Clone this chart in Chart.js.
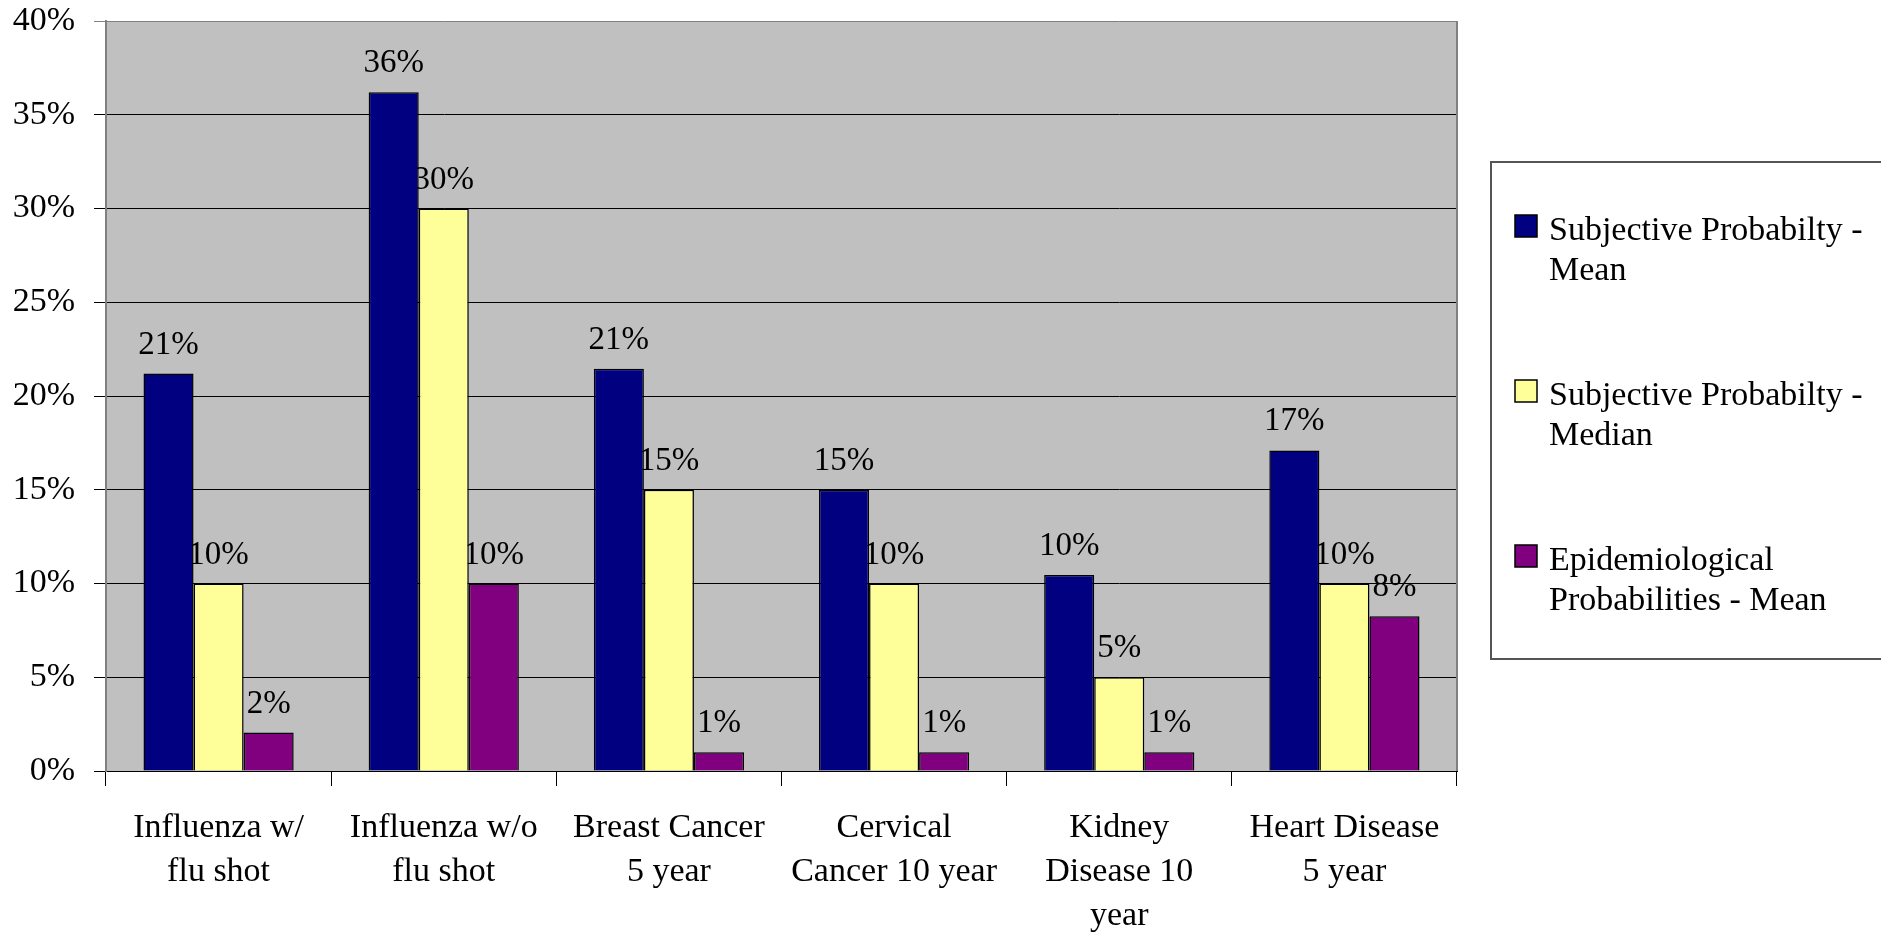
<!DOCTYPE html>
<html>
<head>
<meta charset="utf-8">
<script src="https://cdn.jsdelivr.net/npm/chart.js@4.4.1/dist/chart.umd.min.js"></script>
<style>
  html, body { margin: 0; padding: 0; background: #fff; }
  canvas { display: block; }
</style>
</head>
<body>
<canvas id="myChart" width="1881" height="932"></canvas>
<script>
var categories = [
  ["Influenza w/", "flu shot"],
  ["Influenza w/o", "flu shot"],
  ["Breast Cancer", "5 year"],
  ["Cervical", "Cancer 10 year"],
  ["Kidney", "Disease 10", "year"],
  ["Heart Disease", "5 year"]
];
var subjectiveMean = [21.2, 36.2, 21.45, 15.0, 10.45, 17.1];
var subjectiveMedian = [10, 30, 15, 10, 5, 10];
var epidemiologicalMean = [2.05, 10, 1.0, 1.0, 1.0, 8.25];
var seriesLines = [
  ["Subjective Probabilty -", "Mean"],
  ["Subjective Probabilty -", "Median"],
  ["Epidemiological", "Probabilities - Mean"]
];
var seriesColors = ["#000080", "#FFFF99", "#800080"];
var yTicks = [0, 5, 10, 15, 20, 25, 30, 35, 40];

var serif = "'Liberation Serif', 'Times New Roman', serif";

// grey plot background
var plotBackground = {
  id: "plotBackground",
  beforeDraw: function (chart) {
    var c = chart.ctx, a = chart.chartArea;
    c.save();
    c.fillStyle = "#fff";
    c.fillRect(0, 0, chart.width, chart.height);
    c.fillStyle = "#C0C0C0";
    c.fillRect(a.left, a.top, a.right - a.left, a.bottom - a.top);
    c.restore();
  }
};

// value labels sit under the bars, like the original
var barLabels = {
  id: "barLabels",
  beforeDatasetsDraw: function (chart) {
    var c = chart.ctx, a = chart.chartArea;
    c.save();
    c.strokeStyle = "#808080";
    c.lineWidth = 2;
    c.beginPath();
    c.moveTo(a.right, a.top);
    c.lineTo(a.right, a.bottom);
    c.stroke();
    c.font = "33px " + serif;
    c.fillStyle = "#000";
    c.textAlign = "center";
    c.textBaseline = "alphabetic";
    chart.data.datasets.forEach(function (ds, i) {
      var meta = chart.getDatasetMeta(i);
      meta.data.forEach(function (bar, j) {
        c.fillText(Math.round(ds.data[j]) + "%", bar.x, bar.y - 20);
      });
    });
    c.restore();
  }
};

// boxed legend with wrapped names
var sideLegend = {
  id: "sideLegend",
  afterDraw: function (chart) {
    var c = chart.ctx;
    c.save();
    c.strokeStyle = "#555";
    c.lineWidth = 2;
    c.strokeRect(1491, 162, 500, 497);
    c.font = "34px " + serif;
    c.fillStyle = "#000";
    c.textAlign = "left";
    c.textBaseline = "alphabetic";
    chart.data.datasets.forEach(function (ds, i) {
      var top = 215 + i * 165;
      c.fillStyle = ds.backgroundColor;
      c.fillRect(1515, top, 22, 22);
      c.strokeStyle = "#000";
      c.lineWidth = 1.5;
      c.strokeRect(1515, top, 22, 22);
      c.fillStyle = "#000";
      seriesLines[i].forEach(function (line, k) {
        c.fillText(line, 1549, top + 25 + k * 39.5);
      });
    });
    c.restore();
  }
};

var ctx = document.getElementById("myChart").getContext("2d");
var myChart = new Chart(ctx, {
  type: "bar",
  data: {
    labels: categories,
    datasets: [
      {
        label: seriesLines[0].join(" "),
        data: subjectiveMean,
        backgroundColor: seriesColors[0],
        borderColor: "#000",
        borderWidth: 1.5,
      },
      {
        label: seriesLines[1].join(" "),
        data: subjectiveMedian,
        backgroundColor: seriesColors[1],
        borderColor: "#000",
        borderWidth: 1.5,
      },
      {
        label: seriesLines[2].join(" "),
        data: epidemiologicalMean,
        backgroundColor: seriesColors[2],
        borderColor: "#000",
        borderWidth: 1.5,
      },
    ],
  },
  options: {
    responsive: false,
    animation: false,
    layout: {
      padding: { top: 21, right: 424, bottom: 0, left: 0 },
    },
    categoryPercentage: 0.667,
    barPercentage: 1.0,
    plugins: {
      legend: { display: false },
      tooltip: { enabled: false },
    },
    scales: {
      x: {
        afterFit: function (scale) {
          scale.height = 161;
          scale.paddingLeft = 0;
          scale.paddingRight = 0;
        },
        grid: {
          offset: true,
          drawOnChartArea: false,
          drawTicks: true,
          tickLength: 15,
          color: "#000",
        },
        border: { display: true, color: "#000", width: 1 },
        ticks: {
          color: "#000",
          padding: 20,
          maxRotation: 0,
          autoSkip: false,
          font: { family: serif, size: 34, lineHeight: 1.3 },
        },
      },
      y: {
        min: 0,
        max: 40,
        afterFit: function (scale) {
          scale.width = 106;
          scale.paddingTop = 0;
          scale.paddingBottom = 0;
        },
        afterBuildTicks: function (scale) {
          scale.ticks = yTicks.map(function (v) { return { value: v }; });
        },
        grid: {
          color: function (c) { return c.tick && c.tick.value === 40 ? "#808080" : "#000"; },
          lineWidth: 1,
          tickLength: 12,
        },
        border: { display: true, color: "#808080", width: 2 },
        ticks: {
          color: "#000",
          padding: 19,
          font: { family: serif, size: 34 },
          callback: function (v) { return v + "%"; },
        },
      },
    },
  },
  plugins: [plotBackground, barLabels, sideLegend],
});
</script>
</body>
</html>
